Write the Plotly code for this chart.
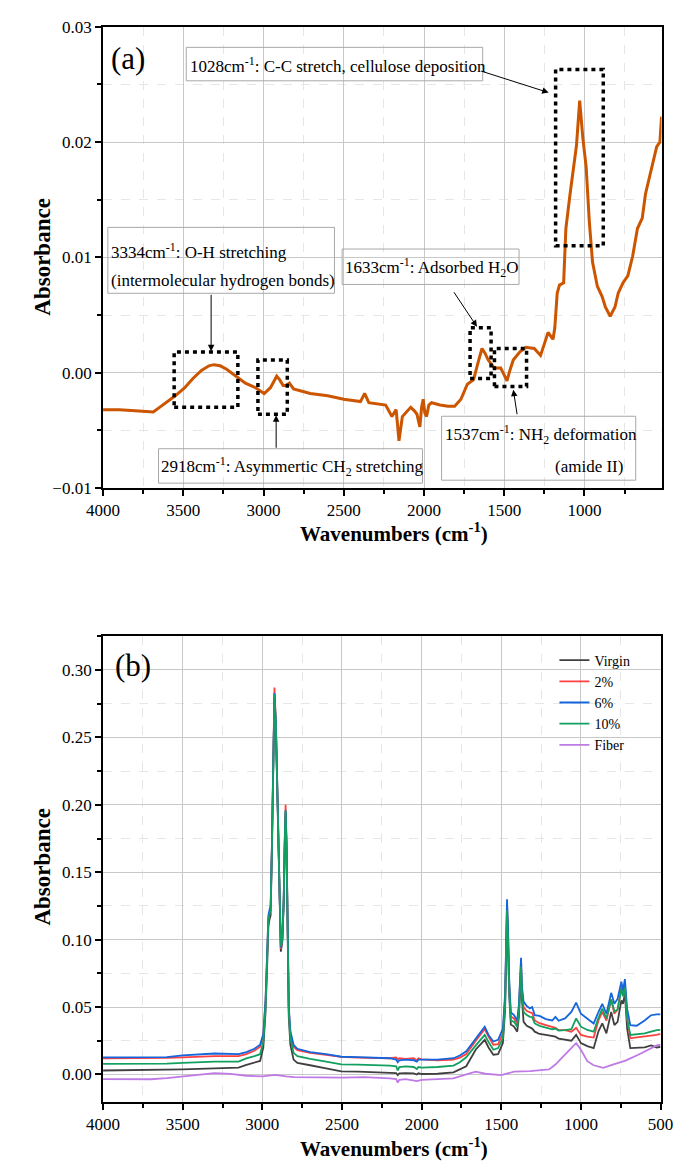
import plotly.graph_objects as go

# ---------------- data: panel (a) fiber spectrum ----------------
top_wn = [4000, 3900, 3800, 3700, 3687, 3648, 3600, 3550, 3491, 3440, 3387, 3340, 3309, 3270, 3230,
          3165, 3113, 3050, 2996, 2957, 2935, 2918, 2900, 2878, 2860, 2839, 2813, 2760, 2709, 2600,
          2500, 2396, 2370, 2344, 2239, 2200, 2174, 2165, 2156, 2145, 2135, 2083, 2060, 2044, 2026,
          2015, 2005, 1995, 1984, 1970, 1953, 1900, 1850, 1809, 1770, 1730, 1691, 1665, 1639, 1620,
          1600, 1561, 1522, 1500, 1483, 1465, 1444, 1404, 1365, 1313, 1274, 1250, 1227, 1196, 1185,
          1170, 1156, 1130, 1116, 1090, 1070, 1050, 1030, 1010, 990, 970, 950, 920, 890, 870,
          840, 810, 790, 760, 730, 700, 670, 640, 620, 600, 570, 550, 530, 520]
top_abs = [-0.0032, -0.0032, -0.0033, -0.0034, -0.0034, -0.0030, -0.0025, -0.0020, -0.0013, -0.0005,
           0.0002, 0.0006, 0.0007, 0.0006, 0.0003, -0.0004, -0.0009, -0.0013, -0.0018, -0.0013,
           -0.0008, -0.0003, -0.0006, -0.0011, -0.0011, -0.0009, -0.0014, -0.0016, -0.0018, -0.0020,
           -0.0023, -0.0025, -0.0018, -0.0026, -0.0028, -0.0038, -0.0032, -0.0045, -0.0059, -0.0048,
           -0.0038, -0.0030, -0.0033, -0.0036, -0.0047, -0.0030, -0.0023, -0.0035, -0.0038, -0.0028,
           -0.0026, -0.0028, -0.0029, -0.0029, -0.0023, -0.0010, -0.0006, 0.0008, 0.0021, 0.0017,
           0.0011, 0.0004, 0.0004, -0.0002, -0.0007, 0.0002, 0.0011, 0.0018, 0.0022, 0.0021,
           0.0015, 0.0025, 0.0035, 0.0029, 0.0039, 0.0069, 0.0076, 0.0078, 0.0125, 0.0155,
           0.0176, 0.0197, 0.0236, 0.0203, 0.0179, 0.0131, 0.0096, 0.0075, 0.0066, 0.0057,
           0.0049, 0.0057, 0.0069, 0.0078, 0.0084, 0.0101, 0.0125, 0.0134, 0.0155, 0.0167,
           0.0185, 0.0196, 0.0200, 0.0222]

# ---------------- data: panel (b) composites ----------------
bot_wn = [4000, 3800, 3600, 3500, 3300, 3150, 3100, 3050, 3014, 2994, 2980, 2970, 2962, 2955, 2948,
          2940, 2932, 2924, 2915, 2905, 2895, 2884, 2875, 2866, 2860, 2854, 2848, 2840, 2834, 2824,
          2804, 2780, 2744, 2700, 2600, 2504, 2400, 2300, 2200, 2160, 2150, 2140, 2100, 2050, 2030,
          2020, 2000, 1900, 1800, 1760, 1720, 1660, 1630, 1604, 1580, 1550, 1520, 1490, 1476, 1468,
          1464, 1458, 1450, 1440, 1420, 1400, 1390, 1382, 1376, 1370, 1360, 1340, 1320, 1306, 1290,
          1260, 1220, 1180, 1160, 1140, 1100, 1060, 1030, 1000, 960, 920, 890, 866, 840, 810,
          790, 770, 746, 736, 724, 710, 690, 650, 600, 560, 524, 500]

virgin = [0.0029, 0.0030, 0.0033, 0.0037, 0.0045, 0.0050, 0.0071, 0.0085, 0.0100, 0.0200,
          0.0460, 0.0800, 0.1100, 0.1150, 0.1180, 0.1650, 0.2280, 0.2800, 0.2560, 0.1980,
          0.1380, 0.0910, 0.0980, 0.1260, 0.1660, 0.1940, 0.1660, 0.0850, 0.0420, 0.0220,
          0.0110, 0.0085, 0.0075, 0.0068, 0.0045, 0.0022, 0.0020, 0.0018, 0.0015, 0.0010,
          -0.0005, 0.0008, 0.0010, 0.0008, -0.0001, 0.0008, 0.0003, 0.0005, 0.0015, 0.0035,
          0.0061, 0.0185, 0.0220, 0.0256, 0.0200, 0.0146, 0.0151, 0.0232, 0.0480, 0.0950,
          0.1150, 0.0950, 0.0580, 0.0370, 0.0355, 0.0317, 0.0420, 0.0600, 0.0750, 0.0550,
          0.0390, 0.0360, 0.0346, 0.0340, 0.0317, 0.0300, 0.0293, 0.0285, 0.0280, 0.0265,
          0.0256, 0.0250, 0.0293, 0.0232, 0.0210, 0.0195, 0.0320, 0.0378, 0.0305, 0.0463,
          0.0366, 0.0390, 0.0549, 0.0524, 0.0598, 0.0341, 0.0195, 0.0195, 0.0200, 0.0215,
          0.0200, 0.0205]

pct2 = [0.0120, 0.0120, 0.0122, 0.0127, 0.0135, 0.0135, 0.0150, 0.0175, 0.0205, 0.0290,
        0.0540, 0.0880, 0.1160, 0.1200, 0.1230, 0.1700, 0.2320, 0.2870, 0.2620, 0.2000,
        0.1380, 0.0930, 0.0990, 0.1300, 0.1720, 0.2000, 0.1720, 0.0900, 0.0490, 0.0300,
        0.0205, 0.0180, 0.0170, 0.0160, 0.0145, 0.0130, 0.0125, 0.0122, 0.0120, 0.0125,
        0.0110, 0.0120, 0.0115, 0.0120, 0.0105, 0.0120, 0.0112, 0.0105, 0.0110, 0.0125,
        0.0151, 0.0250, 0.0300, 0.0337, 0.0280, 0.0220, 0.0224, 0.0305, 0.0560, 0.1060,
        0.1260, 0.1060, 0.0660, 0.0430, 0.0415, 0.0378, 0.0480, 0.0680, 0.0840, 0.0620,
        0.0500, 0.0470, 0.0459, 0.0455, 0.0400, 0.0380, 0.0366, 0.0350, 0.0345, 0.0330,
        0.0329, 0.0317, 0.0346, 0.0293, 0.0280, 0.0273, 0.0400, 0.0463, 0.0400, 0.0556,
        0.0450, 0.0480, 0.0646, 0.0590, 0.0670, 0.0415, 0.0268, 0.0275, 0.0280, 0.0285,
        0.0293, 0.0300]

pct6 = [0.0127, 0.0125, 0.0128, 0.0141, 0.0155, 0.0150, 0.0165, 0.0190, 0.0220, 0.0300,
        0.0550, 0.0900, 0.1180, 0.1220, 0.1250, 0.1700, 0.2300, 0.2830, 0.2600, 0.2000,
        0.1400, 0.0940, 0.1000, 0.1300, 0.1700, 0.1960, 0.1700, 0.0900, 0.0500, 0.0320,
        0.0220, 0.0190, 0.0180, 0.0165, 0.0150, 0.0131, 0.0128, 0.0125, 0.0120, 0.0110,
        0.0090, 0.0105, 0.0110, 0.0105, 0.0095, 0.0110, 0.0110, 0.0110, 0.0120, 0.0140,
        0.0171, 0.0268, 0.0317, 0.0354, 0.0293, 0.0244, 0.0256, 0.0340, 0.0600, 0.1100,
        0.1300, 0.1100, 0.0700, 0.0460, 0.0440, 0.0400, 0.0510, 0.0700, 0.0866, 0.0650,
        0.0540, 0.0507, 0.0490, 0.0500, 0.0440, 0.0434, 0.0410, 0.0400, 0.0427, 0.0398,
        0.0415, 0.0463, 0.0532, 0.0450, 0.0415, 0.0378, 0.0463, 0.0524, 0.0450, 0.0605,
        0.0524, 0.0560, 0.0688, 0.0620, 0.0707, 0.0488, 0.0366, 0.0361, 0.0400, 0.0439,
        0.0446, 0.0446]

pct10 = [0.0078, 0.0078, 0.0080, 0.0085, 0.0095, 0.0095, 0.0119, 0.0135, 0.0150, 0.0240,
         0.0500, 0.0850, 0.1140, 0.1190, 0.1220, 0.1680, 0.2300, 0.2820, 0.2580, 0.2000,
         0.1400, 0.0950, 0.1000, 0.1280, 0.1680, 0.1956, 0.1680, 0.0880, 0.0460, 0.0270,
         0.0160, 0.0135, 0.0124, 0.0115, 0.0095, 0.0075, 0.0072, 0.0070, 0.0065, 0.0060,
         0.0030, 0.0055, 0.0060, 0.0055, 0.0040, 0.0055, 0.0050, 0.0055, 0.0065, 0.0090,
         0.0127, 0.0215, 0.0260, 0.0293, 0.0240, 0.0183, 0.0195, 0.0268, 0.0520, 0.1020,
         0.1220, 0.1020, 0.0620, 0.0400, 0.0390, 0.0354, 0.0450, 0.0640, 0.0800, 0.0590,
         0.0463, 0.0440, 0.0427, 0.0425, 0.0378, 0.0360, 0.0346, 0.0335, 0.0340, 0.0325,
         0.0329, 0.0335, 0.0415, 0.0354, 0.0330, 0.0317, 0.0420, 0.0488, 0.0415, 0.0556,
         0.0468, 0.0480, 0.0634, 0.0580, 0.0646, 0.0415, 0.0293, 0.0300, 0.0305, 0.0318,
         0.0329, 0.0330]

fiber_wn = [4000, 3700, 3600, 3500, 3400, 3300, 3200, 3100, 3000, 2920, 2850, 2800, 2500, 2360,
            2200, 2160, 2150, 2140, 2100, 2030, 2000, 1900, 1800, 1720, 1660, 1600, 1500, 1420,
            1320, 1200, 1160, 1120, 1080, 1030, 1000, 960, 920, 860, 800, 720, 640, 580, 524, 500]
fiber_abs = [-0.0035, -0.0036, -0.0028, -0.0015, -0.0002, 0.0010, 0.0004, -0.0010, -0.0015, -0.0003,
             -0.0015, -0.0020, -0.0024, -0.0020, -0.0030, -0.0035, -0.0060, -0.0040, -0.0035, -0.0050,
             -0.0040, -0.0035, -0.0030, 0.0000, 0.0020, 0.0005, -0.0005, 0.0020, 0.0024, 0.0037,
             0.0073, 0.0122, 0.0170, 0.0232, 0.0183, 0.0098, 0.0068, 0.0049, 0.0073, 0.0102,
             0.0146, 0.0183, 0.0215, 0.0220]

series_names = ["Virgin", "2%", "6%", "10%", "Fiber"]
series_colors = ["#404040", "#FF4040", "#1464DC", "#12A060", "#BF7AE6"]

# dotted highlight regions in panel (a): (wn_left, wn_right, abs_low, abs_high)
regions = [(1180, 883, 0.0110, 0.0263),
           (3557, 3160, -0.0030, 0.0018),
           (3035, 2852, -0.0036, 0.0011),
           (1713, 1582, -0.0005, 0.0039),
           (1561, 1361, -0.0012, 0.0021)]

W, H = 686, 1167
def px(x):
    return x / W
def py(y):
    return 1 - y / H

FONT = "Liberation Serif"

fig = go.Figure()
fig.add_trace(go.Scatter(x=top_wn, y=top_abs, mode="lines", line=dict(color="#CC5500", width=3),
                         showlegend=False, xaxis="x", yaxis="y"))
for name, col, vals in zip(series_names[:4], series_colors[:4], [virgin, pct2, pct6, pct10]):
    fig.add_trace(go.Scatter(x=bot_wn, y=vals, mode="lines", name=name,
                             line=dict(color=col, width=1.8), xaxis="x2", yaxis="y2"))
fig.add_trace(go.Scatter(x=fiber_wn, y=fiber_abs, mode="lines", name=series_names[4],
                         line=dict(color=series_colors[4], width=1.8), xaxis="x2", yaxis="y2"))

def axis_common():
    return dict(ticks="outside", ticklen=6, tickwidth=1.5, tickcolor="black",
                showline=True, linewidth=2, linecolor="black", mirror=True,
                showgrid=True, gridcolor="#c8c8c8", gridwidth=1, zeroline=False,
                tickfont=dict(family=FONT, size=17, color="black"))

xa = axis_common(); xa.update(domain=[px(90), px(674)], anchor="y", range=[4000, 520], dtick=500, tick0=0,
                              minor=dict(dtick=250, tick0=0, ticks="outside", ticklen=4, tickcolor="black",
                                         showgrid=True, gridcolor="#e6e6e6", griddash="dash"))
ya = axis_common(); ya.update(domain=[py(487), py(18)], anchor="x", range=[-0.01, 0.03], dtick=0.01,
                              tick0=0, tickformat=".2f",
                              minor=dict(dtick=0.005, tick0=0, ticks="outside", ticklen=4, tickcolor="black",
                                         showgrid=True, gridcolor="#e6e6e6", griddash="dash"))
xb = axis_common(); xb.update(domain=[px(90), px(673)], anchor="y2", range=[4000, 500], dtick=500, tick0=0,
                              minor=dict(dtick=250, tick0=0, ticks="outside", ticklen=4, tickcolor="black",
                                         showgrid=True, gridcolor="#e6e6e6", griddash="dash"))
yb = axis_common(); yb.update(domain=[py(1111), py(637)], anchor="x2", range=[-0.0204, 0.3255], dtick=0.05,
                              tick0=0, tickformat=".2f",
                              minor=dict(dtick=0.025, tick0=0, ticks="outside", ticklen=4, tickcolor="black",
                                         showgrid=True, gridcolor="#e6e6e6", griddash="dash"))

shapes = []
for (x0, x1, y0, y1) in regions:
    shapes.append(dict(type="rect", xref="x", yref="y", x0=x0, x1=x1, y0=y0, y1=y1,
                       line=dict(color="black", width=3.5, dash="4px,4px"), layer="above"))

# label boxes (pixel positions)
boxes = [(177, 39, 487, 73), (95, 222, 332, 289), (340, 244, 525, 280),
         (148, 447, 424, 482), (444, 414, 647, 479)]
for (l, t, r, b) in boxes:
    shapes.append(dict(type="rect", xref="paper", yref="paper", x0=px(l), x1=px(r), y0=py(b), y1=py(t),
                       line=dict(color="#a8a8a8", width=1)))

ann = []
def text(x, y, s, size=17, anchor="left", angle=0):
    ann.append(dict(x=px(x), y=py(y), xref="paper", yref="paper", text=s, showarrow=False,
                    xanchor=anchor, yanchor="middle", textangle=angle,
                    font=dict(family=FONT, size=size, color="black")))

text(179, 57, "1028cm<sup>-1</sup>: C-C stretch, cellulose deposition")
text(96, 246, "3334cm<sup>-1</sup>: O-H stretching")
text(96, 276, "(intermolecular hydrogen bonds)")
text(341, 263, "1633cm<sup>-1</sup>: Adsorbed H<sub>2</sub>O")
text(149, 465, "2918cm<sup>-1</sup>: Asymmertic CH<sub>2</sub> stretching")
text(446, 433, "1537cm<sup>-1</sup>: NH<sub>2</sub> deformation")
text(636, 465, "(amide II)", anchor="right")
text(116, 50, "(a)", size=31, anchor="center")
text(121, 667, "(b)", size=31, anchor="center")
text(27, 252, "<b>Absorbance</b>", size=23, anchor="center", angle=-90)
text(27, 872, "<b>Absorbance</b>", size=23, anchor="center", angle=-90)
text(394, 532, "<b>Wavenumbers (cm<sup>-1</sup>)</b>", size=21, anchor="center")
text(394, 1157, "<b>Wavenumbers (cm<sup>-1</sup>)</b>", size=21, anchor="center")

arrows = [((487, 63), (556, 85)), ((203, 290), (203, 348)), ((271, 447), (271, 413)),
          ((457, 287), (481, 323)), ((523, 413), (519, 387))]
for (tail, head) in arrows:
    ann.append(dict(x=px(head[0]), y=py(head[1]), xref="paper", yref="paper", text="",
                    showarrow=True, ax=tail[0] - head[0], ay=tail[1] - head[1],
                    arrowhead=2, arrowsize=1.3, arrowwidth=1, arrowcolor="black",
                    standoff=0, startstandoff=0))

fig.update_layout(
    width=W, height=H, margin=dict(l=0, r=0, t=0, b=0),
    paper_bgcolor="white", plot_bgcolor="white",
    font=dict(family=FONT, color="black"),
    xaxis=xa, yaxis=ya, xaxis2=xb, yaxis2=yb,
    shapes=shapes, annotations=ann,
    legend=dict(x=px(562), y=py(646), xanchor="left", yanchor="top", bgcolor="rgba(0,0,0,0)",
                font=dict(family=FONT, size=14, color="black"), tracegroupgap=0, itemwidth=30),
)

fig.write_html("out.html")
